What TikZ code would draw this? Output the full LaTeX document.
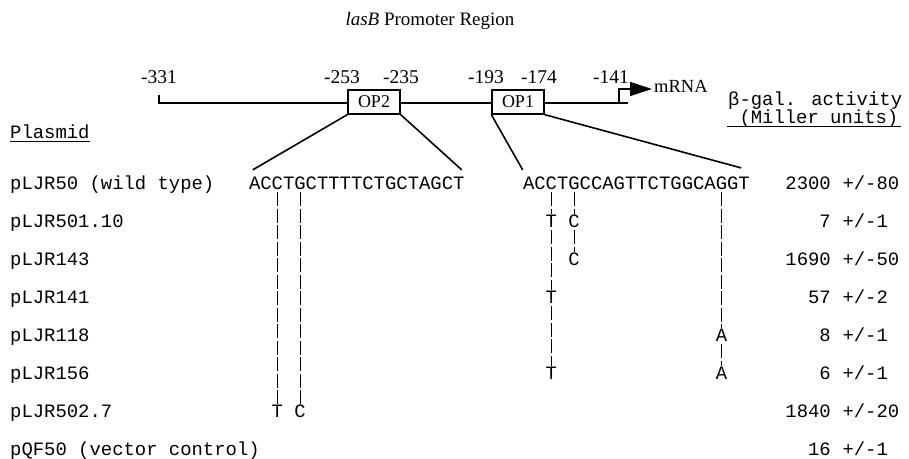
\documentclass[tikz,border=0pt]{standalone}
\usepackage{fontspec}
\setmainfont{Liberation Serif}
\newfontfamily\monofont{Liberation Mono}
\usetikzlibrary{arrows.meta,calc}
\begin{document}
\begin{tikzpicture}[x=1pt,y=-1pt,
  serif/.style={font=\fontsize{18}{20}\selectfont, inner sep=0pt},
  poslabel/.style={font=\fontsize{19.5}{21}\selectfont, inner sep=0pt},
  mono/.style={font=\monofont\fontsize{18.9}{20}\selectfont, inner sep=0pt},
  letter/.style={mono, inner sep=2.5pt, text height=10.8pt, text depth=0pt},
  opbox/.style={draw, line width=1.3pt, fill=white, minimum width=52pt, minimum height=24pt, inner sep=0pt, font=\fontsize{18}{20}\selectfont},
  mainline/.style={line width=1.1pt},
  diag/.style={line width=1.6pt},
  mutline/.style={line width=0.8pt, dash pattern=on 14pt off 2.5pt},
  uline/.style={line width=0.9pt}
]
\fill[white] (0,0) rectangle (909,458);
\useasboundingbox (0,0) rectangle (909,458);

% title
\node[font=\fontsize{19}{21}\selectfont, inner sep=0pt] (title) at (430,21) {\textit{lasB} Promoter Region};

% position labels
\node[poslabel] (p331) at (159,77) {-331};
\node[poslabel] (p253) at (342,77) {-253};
\node[poslabel] (p235) at (401,77) {-235};
\node[poslabel] (p193) at (486,77) {-193};
\node[poslabel] (p174) at (539,77) {-174};
\node[poslabel] (p141) at (611,77) {-141};

% promoter line
\coordinate (tick) at (159,95);
\coordinate (lstart) at (159,103);
\coordinate (lend) at (628,103);
\draw[mainline] (tick) -- (lstart) -- (lend);
\node[opbox] (OP2) at (374,102) {OP2};
\node[opbox] (OP1) at (518,102) {OP1};

% transcription start
\coordinate (prom) at (619,103);
\coordinate (promtop) at (619,89);
\node[font=\fontsize{18.5}{20}\selectfont, anchor=west, inner sep=2pt] (mrna) at (652,86) {mRNA};
\draw[mainline, -{Triangle[length=22pt,width=14pt]}] (prom) -- (promtop) -- (mrna.west |- promtop);

% headers
\node[mono, anchor=base west] (plasmid) at (10,138) {Plasmid};
\draw[uline] ($(plasmid.base west)+(0,3)$) -- ($(plasmid.base east)+(0,3)$);
\node[mono, anchor=base west] (beta) at (728,105) {β-gal. activity};
\node[mono, anchor=base west] (miller) at (739.3,123) {(Miller units)};
\draw[uline] ($(beta.west |- miller.base)+(-1,3)$) -- ($(miller.base east)+(2,3)$);

% wild type sequences
\foreach \c [count=\i from 0] in {A,C,C,T,G,C,T,T,T,T,C,T,G,C,T,A,G,C,T}
  \node[letter] (a\i) at (249+\i*11.34+5.67,184) {\c};
\foreach \c [count=\i from 0] in {A,C,C,T,G,C,C,A,G,T,T,C,T,G,G,C,A,G,G,T}
  \node[letter] (b\i) at (523+\i*11.34+5.67,184) {\c};

% expansion lines
\draw[diag] (OP2.south west) -- ($(a0.north)+(-2,-6)$);
\draw[diag] (OP2.south east) -- ($(a18.north)+(3,-6)$);
\draw[diag] (OP1.south west) -- ($(b0.north)+(-6,-6)$);
\draw[diag] (OP1.south east) -- ($(b19.north)+(-3,-8)$);

% plasmid rows and activities
\foreach \lab/\num/\err [count=\i from 0] in {
  pLJR50 (wild type)/2300/80,
  pLJR501.10/7/1,
  pLJR143/1690/50,
  pLJR141/57/2,
  pLJR118/8/1,
  pLJR156/6/1,
  pLJR502.7/1840/20,
  pQF50 (vector control)/16/1}
{
  \node[mono, anchor=base west] (lab\i) at (10,189.4+\i*38) {\lab};
  \node[mono, anchor=base east] (num\i) at (831,189.4+\i*38) {\num};
  \node[mono, anchor=base west] (err\i) at (842.3,189.4+\i*38) {+/-\err};
}

% mutations
\node[letter] (m1T) at ($(b2)+(0,38)$) {T};
\node[letter] (m1C) at ($(b4)+(0,38)$) {C};
\node[letter] (m2C) at ($(b4)+(0,76)$) {C};
\node[letter] (m3T) at ($(b2)+(0,114)$) {T};
\node[letter] (m4A) at ($(b17)+(0,152)$) {A};
\node[letter] (m5T) at ($(b2)+(0,190)$) {T};
\node[letter] (m5A) at ($(b17)+(0,190)$) {A};
\node[letter] (m6T) at ($(a2)+(0,228)$) {T};
\node[letter] (m6C) at ($(a4)+(0,228)$) {C};

\draw[mutline] (b2) -- (m1T);
\draw[mutline] (m1T) -- (m3T);
\draw[mutline] (m3T) -- (m5T);
\draw[mutline] (b4) -- (m1C);
\draw[mutline] (m1C) -- (m2C);
\draw[mutline] (b17) -- (m4A);
\draw[mutline] (m4A) -- (m5A);
\draw[mutline] (a2) -- (m6T);
\draw[mutline] (a4) -- (m6C);
\end{tikzpicture}
\end{document}
